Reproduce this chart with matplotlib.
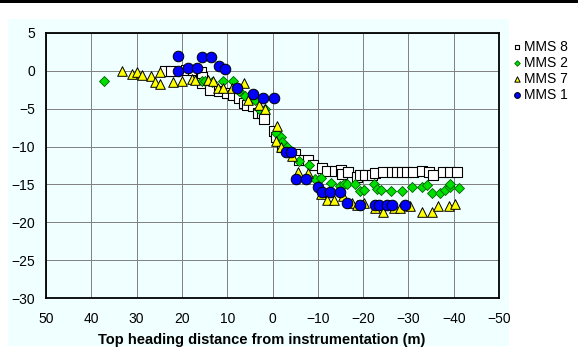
import numpy as np
import matplotlib
matplotlib.use("Agg")
import matplotlib.pyplot as plt
from matplotlib.patches import Rectangle

plt.rcParams['font.family'] = ['Liberation Sans', 'DejaVu Sans']

# MMS 8 (open squares)
mms8_x = [23.7, 22.3, 19.1, 17.6, 15.8, 15.6, 15.6, 13.8, 11.7, 10.0, 8.7, 7.3, 6.4, 5.6,
          4.2, 3.1, 2.4, 1.9, -0.3, -0.8, -2.0, -5.0, -5.9, -7.9, -9.0, -10.9, -12.0,
          -13.8, -15.1, -15.3, -16.7, -18.6, -19.3, -20.4, -21.9, -22.6, -24.5, -26.3,
          -27.4, -28.5, -29.6, -31.1, -33.1, -34.6, -35.5, -37.7, -39.2, -40.7]
mms8_y = [0.0, 0.0, 0.1, 0.1, -0.1, -0.75, -1.6, -2.5, -2.7, -2.9, -3.2, -3.6, -4.2, -4.5,
          -4.6, -5.6, -5.6, -6.4, -7.9, -8.7, -10.0, -11.0, -11.8, -11.8, -12.4, -12.8, -13.2,
          -13.2, -13.1, -13.6, -13.3, -14.0, -13.8, -13.7, -13.7, -13.5, -13.3, -13.3,
          -13.3, -13.3, -13.3, -13.3, -13.2, -13.3, -13.7, -13.3, -13.3, -13.3]

# MMS 2 (green diamonds)
mms2_x = [37.2, 15.6, 15.0, 13.4, 11.0, 8.7, 7.3, 6.1, 3.9, 2.9, 1.7, -0.8, -1.8, -2.2,
          -3.3, -5.9, -8.1, -9.4, -10.6, -12.9, -14.9, -15.8, -16.5, -18.2, -19.3, -20.2,
          -22.3, -23.0, -23.9, -26.2, -28.5, -30.9, -33.1, -34.0, -35.1, -36.9, -38.1,
          -39.2, -39.2, -41.2]
mms2_y = [-1.4, -1.4, -1.3, -1.5, -1.3, -1.3, -2.7, -3.3, -3.9, -5.0, -5.1, -8.2, -8.7, -9.4,
          -10.0, -11.9, -12.4, -14.3, -14.2, -14.8, -15.2, -15.0, -14.9, -15.0, -15.9, -15.7,
          -15.0, -15.6, -15.8, -15.9, -15.9, -15.4, -15.4, -15.1, -16.1, -16.1, -15.7,
          -15.4, -15.0, -15.5]

# MMS 7 (yellow triangles)
mms7_x = [33.2, 31.1, 30.0, 28.9, 26.9, 24.8, 25.9, 24.8, 22.0, 19.9, 17.8, 17.2, 14.2,
          13.1, 12.1, 10.9, 9.0, 6.4, 5.3, 2.9, 1.7, -0.9, -0.8, -1.8, -4.2, -5.7, -7.9,
          -10.6, -12.1, -13.6, -15.5, -17.5, -18.6, -20.1, -22.6, -24.5, -26.8, -28.1,
          -30.3, -32.9, -35.3, -36.5, -39.0, -40.2]
mms7_y = [0.0, -0.35, -0.2, -0.5, -0.7, -0.2, -1.5, -1.75, -1.5, -1.4, -1.1, -1.2, -1.2,
          -1.4, -2.3, -2.2, -2.3, -1.6, -3.8, -4.5, -5.0, -7.3, -9.2, -10.0, -11.3, -13.3, -13.5,
          -16.2, -17.0, -17.0, -16.5, -17.4, -17.7, -17.4, -18.1, -18.6, -18.1, -18.1,
          -17.9, -18.7, -18.7, -17.9, -17.9, -17.6]

# MMS 1 (blue circles)
mms1_x = [20.9, 20.9, 18.6, 16.6, 15.6, 13.6, 11.7, 10.5, 7.9, 4.4, 2.0, -0.3, -2.9, -4.0,
          -5.2, -7.5, -10.1, -10.9, -12.8, -14.9, -16.5, -19.3, -22.6, -23.4, -25.2, -26.3,
          -29.3]
mms1_y = [2.0, 0.0, 0.4, 0.4, 1.8, 1.8, 0.7, 0.3, -2.3, -3.1, -3.6, -3.6, -10.7, -10.7,
          -14.3, -14.3, -15.4, -16.0, -16.0, -16.0, -17.5, -17.7, -17.7, -17.7, -17.7, -17.7,
          -17.7]

W, H = 578, 352
fig = plt.figure(figsize=(W / 100, H / 100), dpi=100)
fig.patch.set_facecolor("white")

# light cyan chart area and black bar at the top
fig.patches.append(Rectangle((8 / W, 1 - 346 / H), (509 - 8) / W, (346 - 19) / H,
                             transform=fig.transFigure, facecolor="#F0FFFF",
                             edgecolor="none", zorder=-10))
fig.patches.append(Rectangle((0, 1 - 3 / H), 1, 3 / H, transform=fig.transFigure,
                             facecolor="black", edgecolor="none", zorder=-10))

ax = fig.add_axes([46 / W, 1 - 298 / H, (499 - 46) / W, (298 - 33) / H])
ax.set_zorder(1)
ax.set_facecolor("#F0FFFF")

ax.scatter(mms8_x, mms8_y, marker="s", s=42, facecolor="white", edgecolor="black",
           linewidths=0.8, label="MMS 8", zorder=3)
ax.scatter(mms2_x, mms2_y, marker="D", s=26, facecolor="#00E000", edgecolor="#006000",
           linewidths=0.6, label="MMS 2", zorder=4)
ax.scatter(mms7_x, mms7_y, marker="^", s=48, facecolor="#FFFF00", edgecolor="black",
           linewidths=0.7, label="MMS 7", zorder=5)
ax.scatter(mms1_x, mms1_y, marker="o", s=58, facecolor="#0000FF", edgecolor="black",
           linewidths=0.7, label="MMS 1", zorder=6)

ax.set_xlim(50, -50)
ax.set_ylim(-30, 5)
ax.set_xticks(np.arange(50, -51, -10))
ax.set_yticks(np.arange(-30, 6, 5))
ax.grid(True, color="#808080", linewidth=0.7)
ax.set_axisbelow(True)
ax.tick_params(axis="x", length=0, labelsize=10, pad=10)
ax.tick_params(axis="y", length=0, labelsize=10, pad=8)
for s in ax.spines.values():
    s.set_linewidth(1.3)
    s.set_color("black")

fig.text(262 / W, 1 - 340 / H, "Top heading distance from instrumentation (m)",
         fontsize=10.5, fontweight="bold", ha="center", va="center")

leg = ax.legend(loc="upper left", bbox_to_anchor=(500 / W, 1 - 30 / H),
                bbox_transform=fig.transFigure, frameon=False, fontsize=10,
                markerscale=0.55, handletextpad=0.05, handlelength=1.0,
                labelspacing=0.15, borderpad=0.2)

fig.savefig("out.png", dpi=100)
